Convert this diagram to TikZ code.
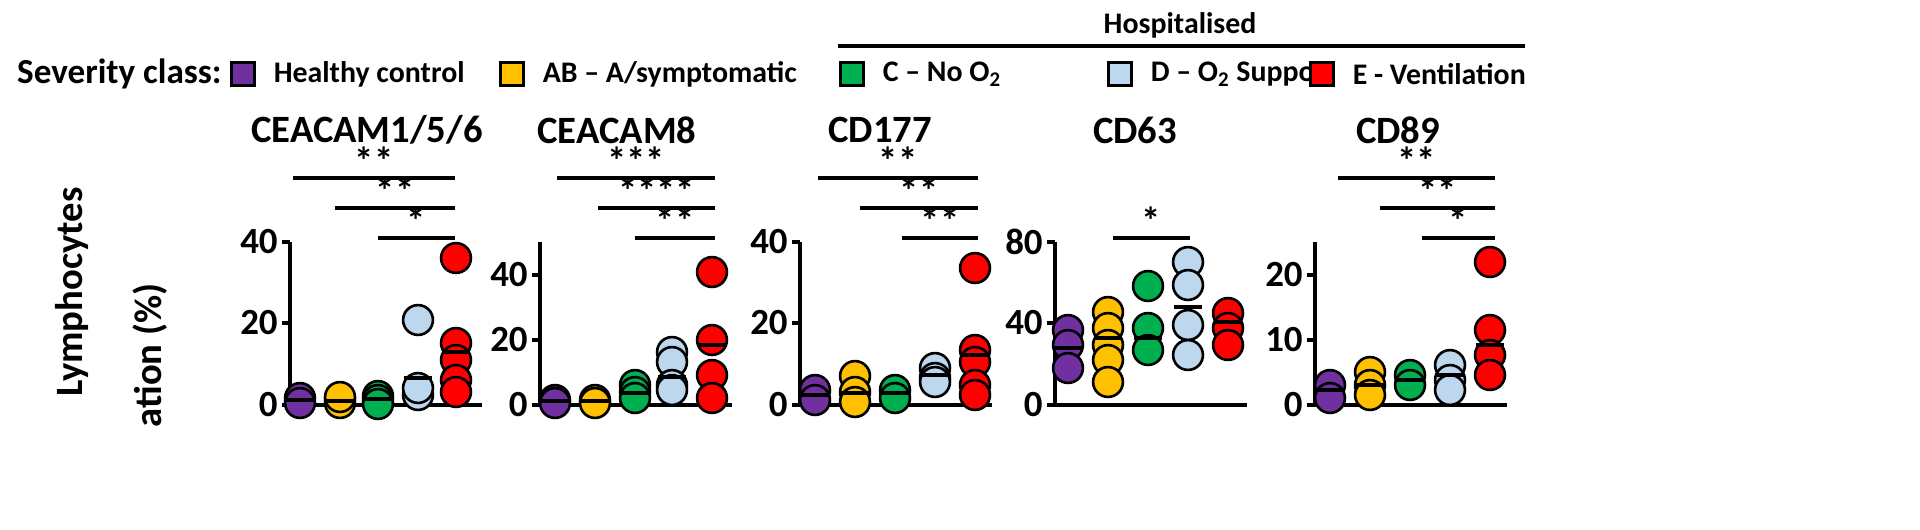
\documentclass[tikz,border=0pt]{standalone}
\usepackage{fontspec}
\setmainfont{Carlito}
\usetikzlibrary{positioning,calc}
\definecolor{hc}{HTML}{7030A0}
\definecolor{ab}{HTML}{FFC000}
\definecolor{cc}{HTML}{00B050}
\definecolor{dd}{HTML}{BDD7EE}
\definecolor{ee}{HTML}{FF0000}
\tikzset{
  lab/.style={font=\bfseries\fontsize{17}{19}\selectfont, inner sep=0pt},
  ttl/.style={font=\bfseries\fontsize{22}{24}\selectfont, inner sep=0pt},
  tick/.style={font=\bfseries\fontsize{21}{23}\selectfont, inner sep=0pt, anchor=east},
  star/.style={font=\bfseries\fontsize{22}{24}\selectfont, inner sep=0pt, anchor=south},
  key/.style={draw=black, line width=1.6pt, minimum size=13pt, inner sep=0pt},
  obs/.style={circle, draw=black, line width=1.5pt, minimum size=17pt, inner sep=0pt},
  axis/.style={line width=2.4pt},
  sig/.style={line width=2.6pt},
  mean/.style={line width=2pt}
}
\newcommand{\obsdots}[3]{\foreach \yy in {#2} \node[obs, fill=#3] at (#1,\yy) {};}
\newcommand{\meanbar}[2]{\draw[mean] (#1-14,#2) -- (#1+14,#2);}
\newcommand{\sigbar}[4]{\draw[sig] (#1,#3) -- (#2,#3); \node[star] at ({(#1+#2)/2},#3-3) {#4};}
\begin{document}
\begin{tikzpicture}[x=0.02cm, y=-0.02cm]
% header and legend
\node[lab] (hosp) at (1180,25) {Hospitalised};
\draw[sig] (838,46) -- (1525,46);
\node[lab, anchor=east, font=\bfseries\fontsize{20}{22}\selectfont] (sev) at (222,74) {Severity class:};
\node[key, fill=hc] (khc) at (243,74) {};
\node[lab, right=10pt of khc] (thc) {Healthy control};
\node[key, fill=ab] (kab) at (512,74) {};
\node[lab, right=10pt of kab] (tab) {AB – A/symptomatic};
\node[key, fill=cc] (kcc) at (852,74) {};
\node[lab, right=10pt of kcc] (tcc) {C – No O$_\mathbf{2}$};
\node[key, fill=dd] (kdd) at (1120,74) {};
\node[lab, right=10pt of kdd] (tdd) {D – O$_\mathbf{2}$ Support};
\node[key, fill=ee] (kee) at (1322,74) {};
\node[lab, right=10pt of kee] (tee) {E - Ventilation};
% axis label
\node[ttl, rotate=90] (ylab1) at (72,292) {Lymphocytes};
\node[ttl, rotate=90, anchor=east] (ylab2) at (150,283) {ation (\%)};
% titles
\node[ttl] (t1) at (367,130) {CEACAM1/5/6};
\node[ttl] (t2) at (617,130) {CEACAM8};
\node[ttl] (t3) at (880,130) {CD177};
\node[ttl] (t4) at (1135,130) {CD63};
\node[ttl] (t5) at (1398,130) {CD89};
% panel 1
\draw[axis] (290,242) -- (290,405) -- (482,405);
\foreach \yy/\tl in {242/40,323/20,405/0} {\draw[axis] (282,\yy) -- (290,\yy); \node[tick] at (278,\yy) {\tl};}
\obsdots{300}{398,403}{hc} \obsdots{340}{400,403,397}{ab} \obsdots{378}{396,400,404}{cc}
\obsdots{418}{320,395,388}{dd} \obsdots{456}{258,343,360,380,392}{ee}
\meanbar{300}{400} \meanbar{340}{401} \meanbar{378}{399} \meanbar{418}{378} \meanbar{456}{352}
\sigbar{293}{455}{178}{**} \sigbar{335}{455}{208}{**} \sigbar{378}{455}{238}{*}
% panel 2
\draw[axis] (540,242) -- (540,405) -- (732,405);
\foreach \yy/\tl in {275/40,340/20,405/0} {\draw[axis] (532,\yy) -- (540,\yy); \node[tick] at (528,\yy) {\tl};}
\obsdots{555}{400,403}{hc} \obsdots{595}{400,403}{ab} \obsdots{635}{385,392,398}{cc}
\obsdots{672}{352,362,385,390}{dd} \obsdots{712}{272,340,375,398}{ee}
\meanbar{555}{401} \meanbar{595}{401} \meanbar{635}{393} \meanbar{672}{377} \meanbar{712}{345}
\sigbar{557}{715}{178}{***} \sigbar{598}{715}{208}{****} \sigbar{635}{715}{238}{**}
% panel 3
\draw[axis] (800,242) -- (800,405) -- (992,405);
\foreach \yy/\tl in {242/40,323/20,405/0} {\draw[axis] (792,\yy) -- (800,\yy); \node[tick] at (788,\yy) {\tl};}
\obsdots{815}{390,400}{hc} \obsdots{855}{376,392,402}{ab} \obsdots{895}{390,398}{cc}
\obsdots{935}{368,378,382}{dd} \obsdots{975}{268,350,362,385,395}{ee}
\meanbar{815}{395} \meanbar{855}{393} \meanbar{895}{393} \meanbar{935}{375} \meanbar{975}{355}
\sigbar{818}{978}{178}{**} \sigbar{860}{978}{208}{**} \sigbar{902}{978}{238}{**}
% panel 4
\draw[axis] (1055,242) -- (1055,405) -- (1247,405);
\foreach \yy/\tl in {242/80,323/40,405/0} {\draw[axis] (1047,\yy) -- (1055,\yy); \node[tick] at (1043,\yy) {\tl};}
\obsdots{1068}{330,345,368}{hc} \obsdots{1108}{312,328,345,360,382}{ab} \obsdots{1148}{286,328,350}{cc}
\obsdots{1188}{262,285,325,355}{dd} \obsdots{1228}{313,328,345}{ee}
\meanbar{1068}{348} \meanbar{1108}{338} \meanbar{1148}{338} \meanbar{1188}{307} \meanbar{1228}{322}
\sigbar{1113}{1190}{238}{*}
% panel 5
\draw[axis] (1315,242) -- (1315,405) -- (1507,405);
\foreach \yy/\tl in {275/20,340/10,405/0} {\draw[axis] (1307,\yy) -- (1315,\yy); \node[tick] at (1303,\yy) {\tl};}
\obsdots{1330}{385,398}{hc} \obsdots{1370}{372,385,395}{ab} \obsdots{1410}{375,385}{cc}
\obsdots{1450}{365,380,390}{dd} \obsdots{1490}{262,330,355,375}{ee}
\meanbar{1330}{390} \meanbar{1370}{385} \meanbar{1410}{380} \meanbar{1450}{375} \meanbar{1490}{345}
\sigbar{1338}{1495}{178}{**} \sigbar{1380}{1495}{208}{**} \sigbar{1422}{1495}{238}{*}
% fix the frame
\pgfresetboundingbox
\useasboundingbox (0,0) rectangle (1920,529);
\end{tikzpicture}
\end{document}
